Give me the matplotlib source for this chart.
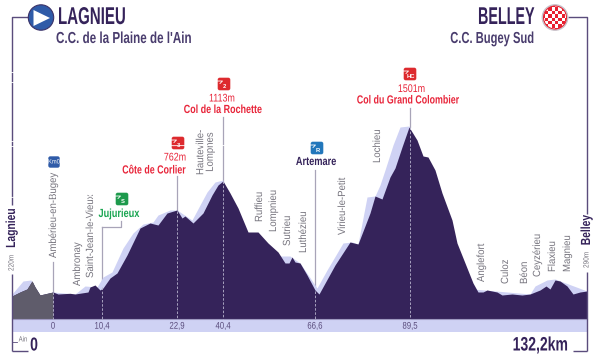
import matplotlib
matplotlib.use("Agg")
import matplotlib.pyplot as plt
from matplotlib.patches import Circle, FancyBboxPatch, Polygon, Rectangle
from matplotlib.patheffects import AbstractPathEffect
from matplotlib.transforms import Affine2D

plt.rcParams['font.family'] = ['Liberation Sans', 'DejaVu Sans']

# Profile (horizontal position, vertical position on the canvas)
profile_x = [12,20,27,32,35,40,53,58,70,75,88,90,95,100,103,110,117,127,140,150,158,167,177,182,185,193,203,212,218,223,230,238,248,258,268,278,285,289,292,295,300,307,315,319,335,350,358,370,375,382,390,395,402,409,417,423,428,435,442,452,457,465,473,478,483,487,497,502,512,522,530,540,546,550,555,560,567,573,580,587]
profile_y = [296,292,289,281,287,295,292,294,293.3,294,292,287,285,290,288,278,273,255,228,223,225,213,210,218,216,223,213,195,185,181,193,208,232,232,243,252,263,263,257,262,263,275,290,294,265,242,244,213,196,199,177,168,147,127,140,156,157,170,193,220,243,263,283,292,292,290,292,295,294,295,294,290,286,289,280,281,286,294,292,291]
shadow_x = [12,23,31,35,40,53,75,85,97,103,112,123,133,143,153,158,170,177,192,200,207,215,223,235,270,280,290,300,317,327,343,352,358,367,375,380,385,393,400,409,473,530,535,547,555,587]
shadow_y = [294,281,280,287,295,292,294,286,287,277,272,248,233,224,222,215,210,210,220,205,192,182,180,215,262,256,256,263,288,270,243,242,244,197,196,185,170,145,127,126,289,294,286,280,279,291]

climb_x = [53, 102, 177, 223, 315, 410]
climb_peak = [292, 287, 211, 181, 291, 127]
climb_top = [262, 227, 176, 117, 170, 108]
km_labels = ['0', '10,4', '22,9', '40,4', '66,6', '89,5']
place_names = ['Ambérieu-en-Bugey','Ambronay','Saint-Jean-le-Vieux','Hauteville-\nLompnes','Ruffieu','Lompnieu','Sutrieu','Luthézieu','Virieu-le-Petit','Lochieu','Anglefort','Culoz','Béon','Ceyzérieu','Flaxieu','Magnieu']
place_x = [53,77,90,205,259,273,287,303,342,377,481,505,524,537,552,567]
place_y = [258,286,278,175,222,232,246,253,235,163,282,284,284,277,272,272]

DARK='#35235a'; LIGHT='#cfd2f4'; GREY='#5f5c6b'; FRAME='#5a4c7c'; RED='#e8253a'; TXT='#35235a'; GTXT='#77757f'; LINE='#a8a4b8'

fig = plt.figure(figsize=(6, 3.59), dpi=100)
ax = fig.add_axes([0, 0, 1, 1])
ax.set_xlim(0, 600); ax.set_ylim(359, 0); ax.axis('off')


class Squeeze(AbstractPathEffect):
    """Condense a text about its anchor, as no condensed face is installed."""
    def __init__(self, x, y, sx=1.0, sy=1.0):
        super().__init__()
        self.x, self.y, self.sx, self.sy = x, y, sx, sy

    def draw_path(self, renderer, gc, tpath, affine, rgbFace=None):
        px, py = ax.transData.transform((self.x, self.y))
        t = affine + Affine2D().translate(-px, -py).scale(self.sx, self.sy).translate(px, py)
        renderer.draw_path(gc, tpath, t, rgbFace)


def T(x, y, s, size, color, squeeze=0.78, weight='normal', ha='center', va='center', rot=0, **kw):
    sx, sy = (squeeze, 1.0) if rot == 0 else (1.0, squeeze)
    t = ax.text(x, y, s, fontsize=size, color=color, fontweight=weight, ha=ha, va=va, rotation=rot, **kw)
    t.set_path_effects([Squeeze(x, y, sx, sy)])
    return t


base = 318.5
ax.add_patch(Rectangle((12, base), 575, 13, fc=LIGHT, ec='none', zorder=1))
ax.fill_between(shadow_x, shadow_y, base, color=LIGHT, lw=0, zorder=2)
ax.fill_between(profile_x, profile_y, base, color=DARK, lw=0, zorder=3)
gx = [x for x in profile_x if x <= 53]
gy = profile_y[:len(gx)]
ax.fill_between(gx, gy, base, color=GREY, lw=0, zorder=4)
ax.plot([12, 587], [base, base], color='#9d98c0', lw=0.8, zorder=5)

# frame
fl = dict(color=FRAME, lw=1.0, zorder=6, solid_capstyle='butt')
ax.plot([30,12,12],[17,17,205], **fl)
ax.plot([12,12],[274,351], **fl)
ax.plot([12,28],[351,351], **fl)
ax.plot([12,17],[341.7,341.7], color=FRAME, lw=0.6)
ax.plot([568,587,587],[17,17,214], **fl)
ax.plot([587,587],[272,351], **fl)
ax.plot([573,587],[351,351], **fl)

# km lines
for x, t, p, lab in zip(climb_x, climb_top, climb_peak, km_labels):
    ax.plot([x,x],[t,p], color=LINE, lw=0.9, zorder=1.5)
    ax.plot([x,x],[p,base], color='#b9b6cf', lw=0.6, ls=(0,(3,2)), zorder=7)
    T(x, 325.7, lab, 7, '#5a4c7c', squeeze=0.8)
ax.plot([102,121,121],[227,227,221], color=LINE, lw=0.9, zorder=1.5)

# place names
for n, x, y in zip(place_names, place_x, place_y):
    T(x, y, n, 7.5, GTXT, squeeze=0.92, rot=90, va='bottom', linespacing=0.95, multialignment='center')

# headers
T(58, 17.5, 'LAGNIEU', 17.5, TXT, squeeze=0.62, weight='bold', ha='left')
T(56, 38.5, "C.C. de la Plaine de l'Ain", 11.5, '#4a3d6e', squeeze=0.73, weight='bold', ha='left')
T(534.5, 17.5, 'BELLEY', 17.5, TXT, squeeze=0.59, weight='bold', ha='right')
T(534.5, 38.5, 'C.C. Bugey Sud', 11.5, '#4a3d6e', squeeze=0.70, weight='bold', ha='right')
T(34, 346, '0', 13.5, TXT, squeeze=0.75, weight='bold')
T(568, 346, '132,2km', 14, TXT, squeeze=0.72, weight='bold', ha='right')
T(23, 340, 'Ain', 5.5, GTXT)
T(12, 228, 'Lagnieu', 9.5, TXT, squeeze=0.78, weight='bold', rot=90)
T(12, 263, '220m', 5.5, GTXT, squeeze=0.85, rot=90)
T(587, 230, 'Belley', 9.5, TXT, squeeze=0.78, weight='bold', rot=90)
T(587, 260, '290m', 5.5, GTXT, squeeze=0.85, rot=90)

# start / finish roundels
ax.add_patch(Circle((41, 17.5), 12.7, fc='#2f5ba8', ec='#3b3268', lw=0.8, zorder=8))
ax.add_patch(Polygon([[33.5,10],[33.5,26],[50,18]], fc='white', ec='none', zorder=9))
ax.add_patch(Circle((555, 17.5), 12.7, fc='#e8202f', ec='#c9c4cc', lw=1, zorder=8))
clip = Circle((555, 17.5), 11, transform=ax.transData)
for i in range(-4, 4):
    for j in range(-4, 4):
        if (i + j) % 2 == 0:
            r = Rectangle((555 + i*3.4, 17.5 + j*3.4), 3.4, 3.4, fc='white', ec='none', zorder=9)
            ax.add_patch(r); r.set_clip_path(clip)


def badge(x, y, color, label):
    ax.add_patch(FancyBboxPatch((x-5, y-5), 10, 10, boxstyle='round,pad=1.3,rounding_size=2', fc=color, ec='none', zorder=8))
    ax.plot([x-4,x-1.5,0,2,4],[y-0.5,y-3,y-1.5,y-4,y-1], color='white', lw=0.6, zorder=9)
    ax.text(x+0.5, y+2.4, label, fontsize=4.2, color='white', fontweight='bold', ha='center', va='center', zorder=9)


badge(224, 84, '#dd2a2e', '2')
badge(178, 143, '#dd2a2e', '3')
badge(410, 74, '#dd2a2e', 'HC')
badge(122, 199, '#1d9a4c', 'S')
badge(317, 148, '#2277bb', 'R')
ax.add_patch(FancyBboxPatch((49.5, 157.5), 9, 9, boxstyle='round,pad=1.2,rounding_size=2', fc='#2f5ba8', ec='none', zorder=8))
T(54, 162, 'Km0', 4.6, 'white', squeeze=0.9, zorder=9)

# climb labels
T(222, 98.5, '1113m', 8, RED, squeeze=0.8)
T(223, 110, 'Col de la Rochette', 8.5, RED, squeeze=0.76, weight='bold')
T(175, 157.5, '762m', 8, RED, squeeze=0.8)
T(154, 170.5, 'Côte de Corlier', 8.5, RED, squeeze=0.75, weight='bold')
T(411.5, 89, '1501m', 8, RED, squeeze=0.8)
T(408, 100.5, 'Col du Grand Colombier', 8.5, RED, squeeze=0.75, weight='bold')
T(316, 162, 'Artemare', 8.5, TXT, squeeze=0.78, weight='bold')
T(119, 214, 'Jujurieux', 8.5, '#1aa652', squeeze=0.78, weight='bold')

fig.savefig('out.png', dpi=100)
